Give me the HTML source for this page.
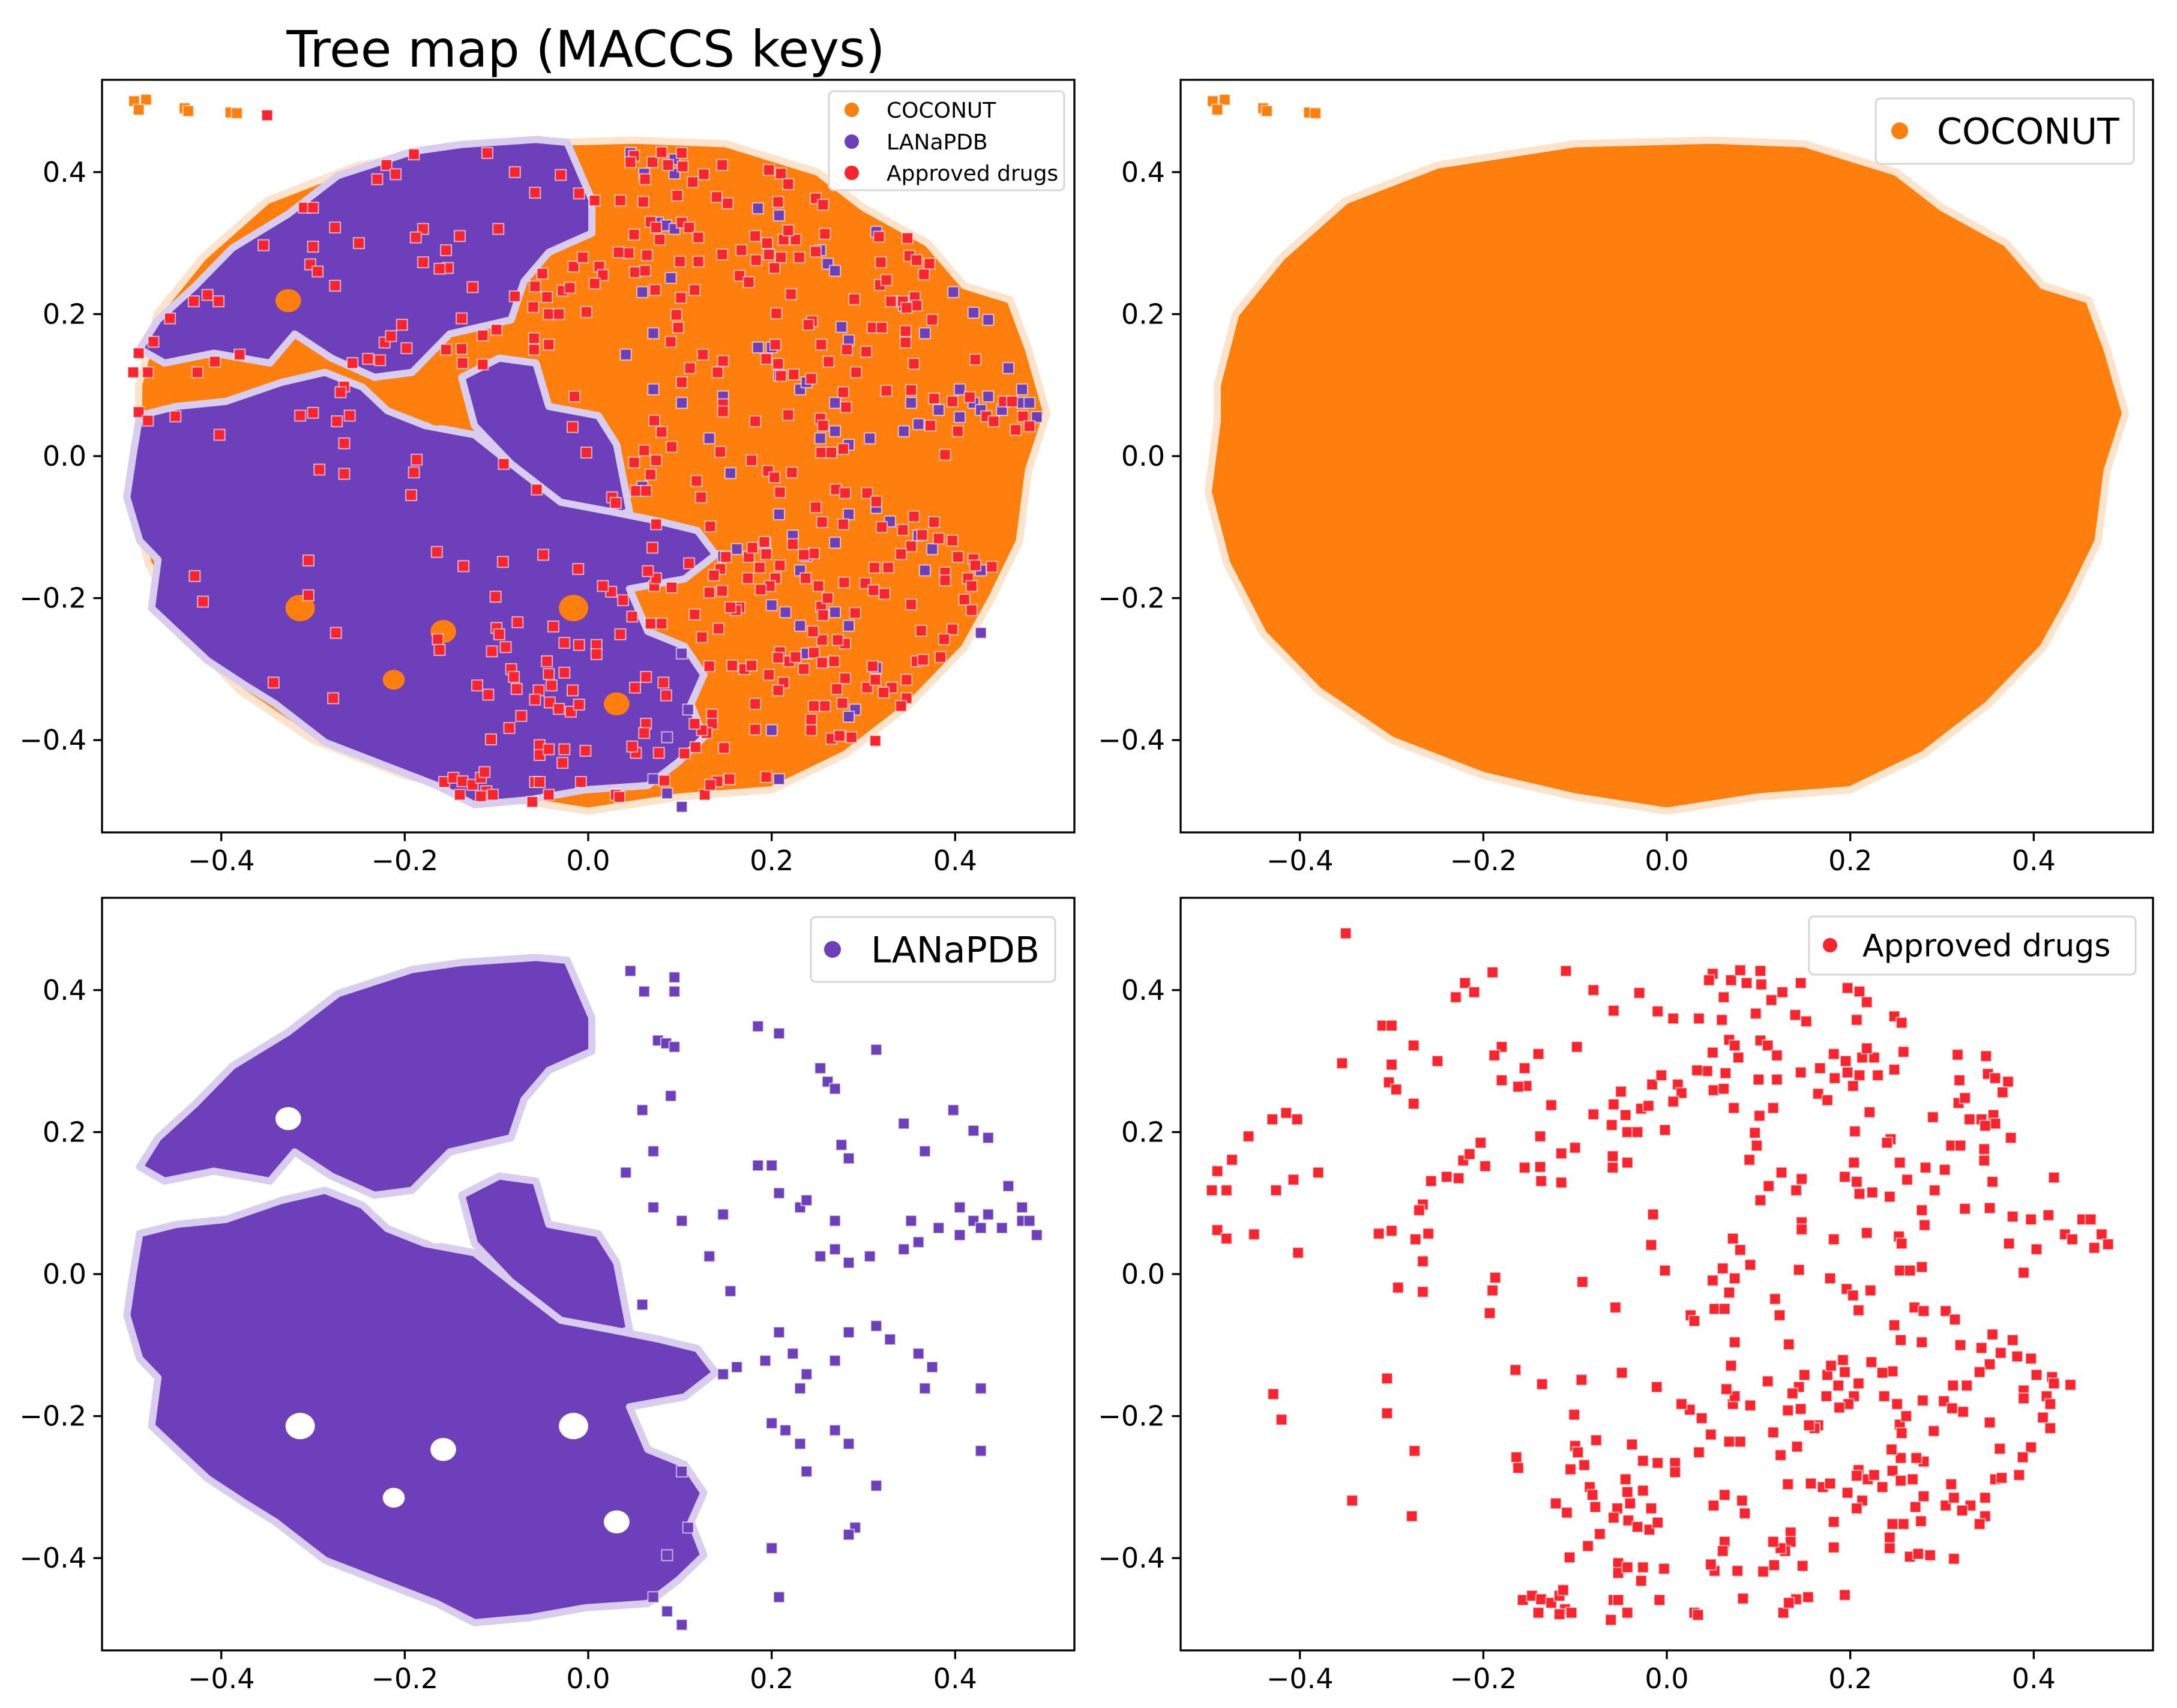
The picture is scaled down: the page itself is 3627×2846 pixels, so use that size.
<!DOCTYPE html>
<html><head><meta charset="utf-8"><style>
html,body{margin:0;padding:0;background:#fff}
svg{display:block}
text{font-family:"DejaVu Sans","Liberation Sans",sans-serif}
</style></head><body>
<svg id="fig" width="3627" height="2846" viewBox="0 0 3627 2846" xmlns="http://www.w3.org/2000/svg">
<rect width="3627" height="2846" fill="#fff"/>
<text x="976" y="111" font-size="84" text-anchor="middle">Tree map (MACCS keys)</text>
</svg>
<script>
const xTicks=[-0.4,-0.2,0.0,0.2,0.4];
const yTicks=[-0.4,-0.2,0.0,0.2,0.4];
const xTickLabels=["\u22120.4","\u22120.2","0.0","0.2","0.4"];
const yTickLabels=["\u22120.4","\u22120.2","0.0","0.2","0.4"];
const cocoHull=[[-0.49,0.1],[-0.47,0.2],[-0.42,0.28],[-0.35,0.36],[-0.25,0.41],[-0.1,0.44],[0.05,0.445],[0.15,0.44],[0.25,0.4],[0.3,0.35],[0.37,0.3],[0.41,0.24],[0.46,0.22],[0.48,0.15],[0.5,0.06],[0.48,-0.02],[0.47,-0.12],[0.44,-0.2],[0.41,-0.27],[0.35,-0.35],[0.28,-0.42],[0.2,-0.47],[0.1,-0.48],[0.0,-0.5],[-0.1,-0.48],[-0.2,-0.45],[-0.3,-0.4],[-0.38,-0.33],[-0.44,-0.25],[-0.48,-0.15],[-0.5,-0.05],[-0.49,0.05]];
const cocoOutliers=[[-0.495,0.5],[-0.482,0.502],[-0.49,0.488],[-0.44,0.49],[-0.436,0.486],[-0.39,0.484],[-0.383,0.483]];
const lanaUpper=[[-0.489,0.151],[-0.469,0.192],[-0.429,0.239],[-0.388,0.293],[-0.327,0.341],[-0.273,0.395],[-0.192,0.429],[-0.138,0.439],[-0.057,0.446],[-0.023,0.442],[0.004,0.361],[0.004,0.314],[-0.043,0.287],[-0.07,0.246],[-0.084,0.192],[-0.151,0.172],[-0.192,0.118],[-0.233,0.111],[-0.28,0.138],[-0.32,0.172],[-0.347,0.131],[-0.408,0.145],[-0.462,0.131]];
const lanaMid=[[-0.138,0.111],[-0.097,0.138],[-0.057,0.131],[-0.043,0.07],[0.011,0.057],[0.031,0.016],[0.045,-0.078],[0.011,-0.092],[-0.03,-0.065],[-0.084,-0.011],[-0.124,0.043]];
const lanaLower=[[-0.503,-0.058],[-0.496,0.003],[-0.489,0.057],[-0.449,0.07],[-0.395,0.077],[-0.334,0.104],[-0.287,0.118],[-0.246,0.097],[-0.219,0.064],[-0.178,0.043],[-0.124,0.03],[-0.084,-0.011],[-0.03,-0.065],[0.024,-0.078],[0.078,-0.092],[0.119,-0.105],[0.139,-0.139],[0.105,-0.173],[0.045,-0.187],[0.065,-0.247],[0.105,-0.268],[0.126,-0.308],[0.112,-0.349],[0.126,-0.396],[0.099,-0.43],[0.065,-0.464],[-0.003,-0.47],[-0.064,-0.484],[-0.124,-0.491],[-0.165,-0.464],[-0.219,-0.437],[-0.287,-0.403],[-0.341,-0.349],[-0.375,-0.322],[-0.415,-0.288],[-0.449,-0.247],[-0.476,-0.214],[-0.469,-0.146],[-0.489,-0.119]];
const lanaHoles=[[-0.314,-0.214,0.016],[-0.158,-0.247,0.014],[-0.212,-0.315,0.012],[-0.016,-0.214,0.016],[0.031,-0.349,0.014],[-0.327,0.219,0.014],[-0.165,0.057,0.012]];
const lanaPts=[[0.046,0.427],[0.061,0.398],[0.094,0.418],[0.094,0.398],[0.076,0.329],[0.085,0.325],[0.094,0.32],[0.09,0.251],[0.059,0.231],[0.071,0.173],[0.041,0.143],[0.071,0.094],[0.102,0.075],[0.059,-0.043],[0.147,0.084],[0.132,0.025],[0.155,-0.024],[0.185,0.349],[0.208,0.339],[0.253,0.29],[0.261,0.271],[0.269,0.261],[0.314,0.316],[0.185,0.153],[0.2,0.153],[0.208,0.114],[0.231,0.094],[0.238,0.104],[0.276,0.182],[0.284,0.163],[0.269,0.075],[0.269,0.035],[0.253,0.025],[0.284,0.016],[0.307,0.025],[0.344,0.212],[0.367,0.173],[0.398,0.231],[0.42,0.202],[0.436,0.192],[0.458,0.124],[0.473,0.094],[0.473,0.075],[0.405,0.094],[0.42,0.075],[0.436,0.084],[0.352,0.075],[0.344,0.035],[0.36,0.045],[0.382,0.065],[0.405,0.055],[0.428,0.065],[0.451,0.065],[0.481,0.075],[0.489,0.055],[0.162,-0.131],[0.147,-0.141],[0.193,-0.122],[0.223,-0.112],[0.208,-0.082],[0.231,-0.161],[0.238,-0.141],[0.269,-0.122],[0.284,-0.082],[0.314,-0.073],[0.329,-0.092],[0.36,-0.112],[0.367,-0.161],[0.375,-0.131],[0.2,-0.21],[0.215,-0.22],[0.231,-0.239],[0.238,-0.278],[0.269,-0.22],[0.284,-0.239],[0.314,-0.298],[0.291,-0.357],[0.284,-0.367],[0.2,-0.386],[0.208,-0.455],[0.428,-0.161],[0.428,-0.249],[0.102,-0.278],[0.109,-0.357],[0.086,-0.396],[0.071,-0.455],[0.086,-0.475],[0.102,-0.494]];
const drugPts=[[-0.35,0.48],[-0.19,0.425],[-0.11,0.427],[-0.22,0.41],[-0.21,0.397],[-0.23,0.39],[-0.08,0.40],[-0.03,0.396],[-0.058,0.371],[-0.01,0.37],[0.007,0.36],[-0.31,0.35],[-0.30,0.35],[-0.276,0.322],[-0.25,0.30],[-0.354,0.297],[-0.30,0.295],[-0.303,0.27],[-0.295,0.26],[-0.276,0.24],[-0.098,0.32],[-0.14,0.31],[-0.18,0.32],[-0.188,0.308],[-0.18,0.273],[-0.155,0.29],[-0.153,0.265],[-0.126,0.238],[-0.456,0.194],[-0.43,0.218],[-0.415,0.227],[-0.403,0.218],[-0.474,0.161],[-0.49,0.145],[-0.496,0.118],[-0.48,0.118],[-0.426,0.118],[-0.407,0.133],[-0.38,0.143],[-0.49,0.062],[-0.48,0.05],[-0.45,0.056],[-0.402,0.03],[-0.314,0.057],[-0.30,0.061],[-0.274,0.049],[-0.26,0.057],[-0.266,0.098],[-0.27,0.09],[-0.257,0.131],[-0.24,0.137],[-0.227,0.135],[-0.222,0.16],[-0.215,0.169],[-0.203,0.185],[-0.198,0.152],[-0.266,0.018],[-0.293,-0.019],[-0.266,-0.025],[-0.187,-0.005],[-0.19,-0.023],[-0.193,-0.055],[-0.155,0.15],[-0.138,0.151],[-0.137,0.131],[-0.115,0.129],[-0.115,0.17],[-0.1,0.178],[-0.138,0.194],[-0.162,0.264],[-0.08,0.225],[-0.058,0.239],[-0.05,0.257],[-0.06,0.21],[-0.043,0.2],[-0.032,0.2],[-0.045,0.224],[-0.028,0.233],[-0.02,0.237],[-0.059,0.166],[-0.059,0.15],[-0.043,0.157],[-0.016,0.267],[-0.006,0.28],[0.012,0.267],[0.016,0.255],[-0.002,0.203],[0.007,0.243],[-0.015,0.084],[-0.017,0.041],[-0.002,0.005],[-0.092,-0.011],[-0.056,-0.047],[0.035,0.36],[0.044,0.286],[0.05,0.423],[0.046,0.414],[0.07,0.414],[0.062,0.39],[0.06,0.358],[0.08,0.428],[0.087,0.41],[0.102,0.427],[0.103,0.408],[0.126,0.397],[0.114,0.386],[0.146,0.41],[0.14,0.365],[0.152,0.356],[0.097,0.367],[0.068,0.33],[0.074,0.322],[0.078,0.305],[0.102,0.329],[0.11,0.322],[0.12,0.308],[0.05,0.312],[0.033,0.287],[0.051,0.259],[0.062,0.261],[0.073,0.234],[0.064,0.283],[0.1,0.274],[0.12,0.274],[0.116,0.234],[0.101,0.223],[0.096,0.199],[0.098,0.181],[0.09,0.161],[0.111,0.124],[0.102,0.104],[0.125,0.143],[0.141,0.118],[0.147,0.134],[0.146,0.284],[0.167,0.29],[0.182,0.31],[0.195,0.3],[0.183,0.276],[0.197,0.284],[0.21,0.28],[0.23,0.28],[0.213,0.305],[0.226,0.305],[0.218,0.318],[0.203,0.265],[0.165,0.254],[0.175,0.245],[0.197,0.403],[0.21,0.398],[0.218,0.383],[0.207,0.358],[0.248,0.363],[0.256,0.354],[0.258,0.313],[0.248,0.288],[0.221,0.228],[0.205,0.201],[0.244,0.19],[0.24,0.185],[0.204,0.157],[0.194,0.137],[0.207,0.13],[0.21,0.113],[0.224,0.115],[0.243,0.109],[0.254,0.157],[0.262,0.133],[0.282,0.15],[0.303,0.147],[0.292,0.118],[0.29,0.221],[0.31,0.181],[0.32,0.181],[0.319,0.273],[0.318,0.241],[0.325,0.248],[0.317,0.309],[0.348,0.307],[0.35,0.282],[0.358,0.276],[0.372,0.271],[0.366,0.256],[0.33,0.218],[0.343,0.218],[0.356,0.224],[0.358,0.212],[0.347,0.209],[0.375,0.192],[0.346,0.176],[0.346,0.16],[0.355,0.13],[0.325,0.092],[0.352,0.093],[0.377,0.081],[0.397,0.077],[0.416,0.083],[0.422,0.136],[0.434,0.056],[0.442,0.049],[0.453,0.077],[0.462,0.077],[0.474,0.056],[0.481,0.042],[0.466,0.037],[0.403,0.035],[0.373,0.043],[0.389,0.002],[0.278,0.09],[0.281,0.069],[0.253,0.053],[0.256,0.043],[0.218,0.058],[0.182,0.049],[0.147,0.073],[0.147,0.063],[0.144,0.006],[0.254,0.005],[0.265,0.005],[0.278,0.01],[0.178,-0.006],[0.196,-0.021],[0.203,-0.03],[0.209,-0.051],[0.222,-0.023],[0.072,0.05],[0.08,0.034],[0.061,0.008],[0.091,0.013],[0.074,-0.006],[0.05,-0.009],[0.068,-0.026],[0.118,-0.035],[0.123,-0.058],[0.052,-0.049],[0.063,-0.049],[0.026,-0.058],[0.03,-0.066],[0.074,-0.096],[0.133,-0.099],[0.248,-0.072],[0.27,-0.047],[0.28,-0.052],[0.304,-0.052],[0.314,-0.064],[0.255,-0.093],[0.278,-0.096],[0.32,-0.1],[0.343,-0.104],[0.355,-0.085],[0.377,-0.093],[0.364,-0.111],[0.382,-0.116],[0.397,-0.119],[0.403,-0.142],[0.42,-0.145],[0.422,-0.154],[0.44,-0.156],[0.414,-0.172],[0.418,-0.183],[0.41,-0.202],[0.418,-0.217],[0.389,-0.164],[0.389,-0.175],[0.352,-0.127],[0.341,-0.138],[0.327,-0.157],[0.312,-0.157],[0.302,-0.179],[0.311,-0.189],[0.323,-0.194],[0.352,-0.209],[0.363,-0.246],[0.397,-0.244],[0.388,-0.258],[0.358,-0.289],[0.365,-0.287],[0.384,-0.283],[0.347,-0.315],[0.347,-0.341],[0.341,-0.352],[0.331,-0.326],[0.322,-0.333],[0.31,-0.296],[0.304,-0.326],[0.313,-0.315],[0.28,-0.264],[0.272,-0.259],[0.255,-0.259],[0.245,-0.247],[0.246,-0.277],[0.255,-0.291],[0.268,-0.289],[0.28,-0.313],[0.271,-0.328],[0.277,-0.348],[0.258,-0.352],[0.246,-0.352],[0.243,-0.371],[0.243,-0.386],[0.265,-0.398],[0.287,-0.396],[0.313,-0.401],[0.274,-0.394],[0.254,-0.212],[0.256,-0.224],[0.261,-0.2],[0.251,-0.183],[0.237,-0.172],[0.279,-0.178],[0.246,-0.137],[0.235,-0.139],[0.223,-0.124],[0.209,-0.154],[0.204,-0.172],[0.198,-0.183],[0.188,-0.188],[0.187,-0.157],[0.194,-0.138],[0.175,-0.142],[0.179,-0.129],[0.192,-0.121],[0.174,-0.172],[0.165,-0.213],[0.161,-0.217],[0.155,-0.213],[0.146,-0.19],[0.144,-0.159],[0.15,-0.142],[0.137,-0.168],[0.132,-0.192],[0.11,-0.151],[0.116,-0.223],[0.142,-0.243],[0.124,-0.255],[0.132,-0.296],[0.157,-0.295],[0.17,-0.3],[0.178,-0.295],[0.182,-0.349],[0.197,-0.308],[0.213,-0.319],[0.207,-0.33],[0.209,-0.276],[0.219,-0.289],[0.226,-0.283],[0.207,-0.284],[0.182,-0.385],[0.194,-0.452],[0.154,-0.455],[0.141,-0.458],[0.127,-0.477],[0.133,-0.463],[0.148,-0.411],[0.135,-0.364],[0.135,-0.377],[0.129,-0.39],[0.124,-0.386],[0.116,-0.377],[0.117,-0.41],[0.105,-0.419],[0.083,-0.457],[0.077,-0.418],[0.052,-0.418],[0.048,-0.409],[0.063,-0.377],[0.061,-0.39],[0.051,-0.326],[0.063,-0.311],[0.082,-0.319],[0.085,-0.337],[0.068,-0.236],[0.08,-0.236],[0.048,-0.226],[0.038,-0.203],[0.025,-0.191],[0.016,-0.183],[0.091,-0.185],[0.072,-0.183],[0.074,-0.172],[0.065,-0.162],[0.07,-0.129],[0.035,-0.251],[0.009,-0.266],[-0.01,-0.266],[0.009,-0.279],[-0.026,-0.263],[-0.026,-0.305],[-0.038,-0.24],[-0.049,-0.139],[-0.011,-0.159],[-0.093,-0.149],[-0.101,-0.198],[-0.136,-0.155],[-0.165,-0.135],[-0.164,-0.258],[-0.162,-0.273],[-0.1,-0.242],[-0.097,-0.251],[-0.09,-0.269],[-0.105,-0.275],[-0.077,-0.234],[-0.084,-0.3],[-0.081,-0.311],[-0.078,-0.328],[-0.121,-0.323],[-0.109,-0.336],[-0.045,-0.289],[-0.043,-0.307],[-0.04,-0.323],[-0.054,-0.33],[-0.058,-0.343],[-0.042,-0.347],[-0.032,-0.356],[-0.019,-0.36],[-0.017,-0.33],[-0.01,-0.35],[-0.073,-0.366],[-0.086,-0.383],[-0.106,-0.399],[-0.053,-0.407],[-0.053,-0.421],[-0.043,-0.413],[-0.026,-0.413],[-0.028,-0.432],[-0.003,-0.415],[-0.058,-0.459],[-0.053,-0.459],[-0.043,-0.477],[-0.061,-0.487],[-0.008,-0.459],[0.03,-0.477],[0.034,-0.48],[-0.157,-0.459],[-0.147,-0.453],[-0.137,-0.458],[-0.14,-0.477],[-0.126,-0.463],[-0.117,-0.453],[-0.113,-0.445],[-0.111,-0.472],[-0.117,-0.479],[-0.104,-0.477],[-0.429,-0.169],[-0.42,-0.205],[-0.305,-0.147],[-0.305,-0.196],[-0.275,-0.249],[-0.343,-0.319],[-0.278,-0.341],[0.291,-0.221],[0.235,-0.3]];

const NS="http://www.w3.org/2000/svg";
const svg=document.getElementById('fig');
const W=1620,H=1254,LIM=0.53;
const ORANGE="#ff7f0e",PURPLE="#6d3fbb",RED="#f8252f";
function mk(tag,attrs,parent){const e=document.createElementNS(NS,tag);for(const k in attrs)e.setAttribute(k,attrs[k]);(parent||svg).appendChild(e);return e;}
function panel(name,x0,y0){
  const g=mk('g',{});
  
  
  const sx=v=>x0+(v+LIM)/(2*LIM)*W;
  const sy=v=>y0+(LIM-v)/(2*LIM)*H;
  const clipId='clip-'+name;
  const cp=mk('clipPath',{id:clipId},g);mk('rect',{x:x0,y:y0,width:W,height:H},cp);
  const plot=mk('g',{'clip-path':'url(#'+clipId+')'},g);
  
  
  return {g,plot,sx,sy,x0,y0};
}
function poly(P,pts,fill,halo,name){
  const d=pts.map(p=>P.sx(p[0]).toFixed(1)+','+P.sy(p[1]).toFixed(1)).join(' ');
  const e=mk('polygon',{points:d,fill:fill,stroke:halo,'stroke-width':12,'stroke-linejoin':'round'},P.plot);
  
  
}
function holes(P,fill){
  for(const h of lanaHoles){
    const e=mk('ellipse',{cx:P.sx(h[0]),cy:P.sy(h[1]),rx:h[2]/(2*LIM)*W,ry:h[2]/(2*LIM)*W*0.9,fill:fill},P.plot);
    
    
  }
}
function points(P,arr,fill,name){
  for(const p of arr){
    const e=mk('rect',{x:P.sx(p[0])-9,y:P.sy(p[1])-9,width:18,height:18,fill:fill,stroke:'#fff','stroke-opacity':0.6,'stroke-width':2},P.plot);
    
    
  }
}
function axes(P){
  const f=mk('rect',{x:P.x0,y:P.y0,width:W,height:H,fill:'none',stroke:'#000','stroke-width':3.3},P.g);
  
  
  xTicks.forEach((t,i)=>{
    const x=P.sx(t),yb=P.y0+H;
    const l=mk('line',{x1:x,y1:yb,x2:x,y2:yb+14.6,stroke:'#000','stroke-width':3.3},P.g);
    
    
    const tx=mk('text',{x:x,y:yb+63,'font-size':46,'text-anchor':'middle'},P.g);
    tx.textContent=xTickLabels[i];
    
    
  });
  yTicks.forEach((t,i)=>{
    const y=P.sy(t),xl=P.x0;
    const l=mk('line',{x1:xl,y1:y,x2:xl-14.6,y2:y,stroke:'#000','stroke-width':3.3},P.g);
    
    
    const tx=mk('text',{x:xl-26,y:y+16,'font-size':46,'text-anchor':'end'},P.g);
    tx.textContent=yTickLabels[i];
    
    
  });
}
function legend(P,box,entries,fs,r,cx,tx){
  const lg=mk('g',{},P.g);
  
  
  mk('rect',{x:box[0],y:box[1],width:box[2],height:box[3],rx:8,fill:'#fff','fill-opacity':0.85,stroke:'#d6d6d6','stroke-width':3},lg);
  entries.forEach(en=>{
    const it=mk('g',{},lg);
    
    
    mk('circle',{cx:cx,cy:en[2],r:r,fill:en[1]},it);
    const t=mk('text',{x:tx,y:en[2]+fs*0.36,'font-size':fs},it);
    t.textContent=en[0];
  });
}
const A=panel('panel-combined',170,133);
poly(A,cocoHull,ORANGE,'#fde3cc','coconut-region');
points(A,cocoOutliers,ORANGE,'coconut-point');
poly(A,lanaUpper,PURPLE,'#d8ccef','lanapdb-region');
poly(A,lanaMid,PURPLE,'#d8ccef','lanapdb-region');
poly(A,lanaLower,PURPLE,'#d8ccef','lanapdb-region');
holes(A,ORANGE);
points(A,lanaPts,PURPLE,'lanapdb-point');
points(A,drugPts,RED,'drug-point');
axes(A);
legend(A,[1381,152,392,165],[["COCONUT",ORANGE,183],["LANaPDB",PURPLE,236],["Approved drugs",RED,288]],36,12,1419,1477);
const B=panel('panel-coconut',1967,133);
poly(B,cocoHull,ORANGE,'#fde3cc','coconut-region');
points(B,cocoOutliers,ORANGE,'coconut-point');
axes(B);
legend(B,[3125,164,430,109],[["COCONUT",ORANGE,218]],60,14,3165,3227);
const C=panel('panel-lanapdb',170,1496);
poly(C,lanaUpper,PURPLE,'#d8ccef','lanapdb-region');
poly(C,lanaMid,PURPLE,'#d8ccef','lanapdb-region');
poly(C,lanaLower,PURPLE,'#d8ccef','lanapdb-region');
holes(C,'#fff');
points(C,lanaPts,PURPLE,'lanapdb-point');
axes(C);
legend(C,[1351,1528,407,108],[["LANaPDB",PURPLE,1582]],60,14,1387,1451);
const D=panel('panel-approved-drugs',1967,1496);
points(D,drugPts,RED,'drug-point');
axes(D);
legend(D,[3014,1527,544,97],[["Approved drugs",RED,1575]],52,12,3049,3103);
</script>
</body></html>
